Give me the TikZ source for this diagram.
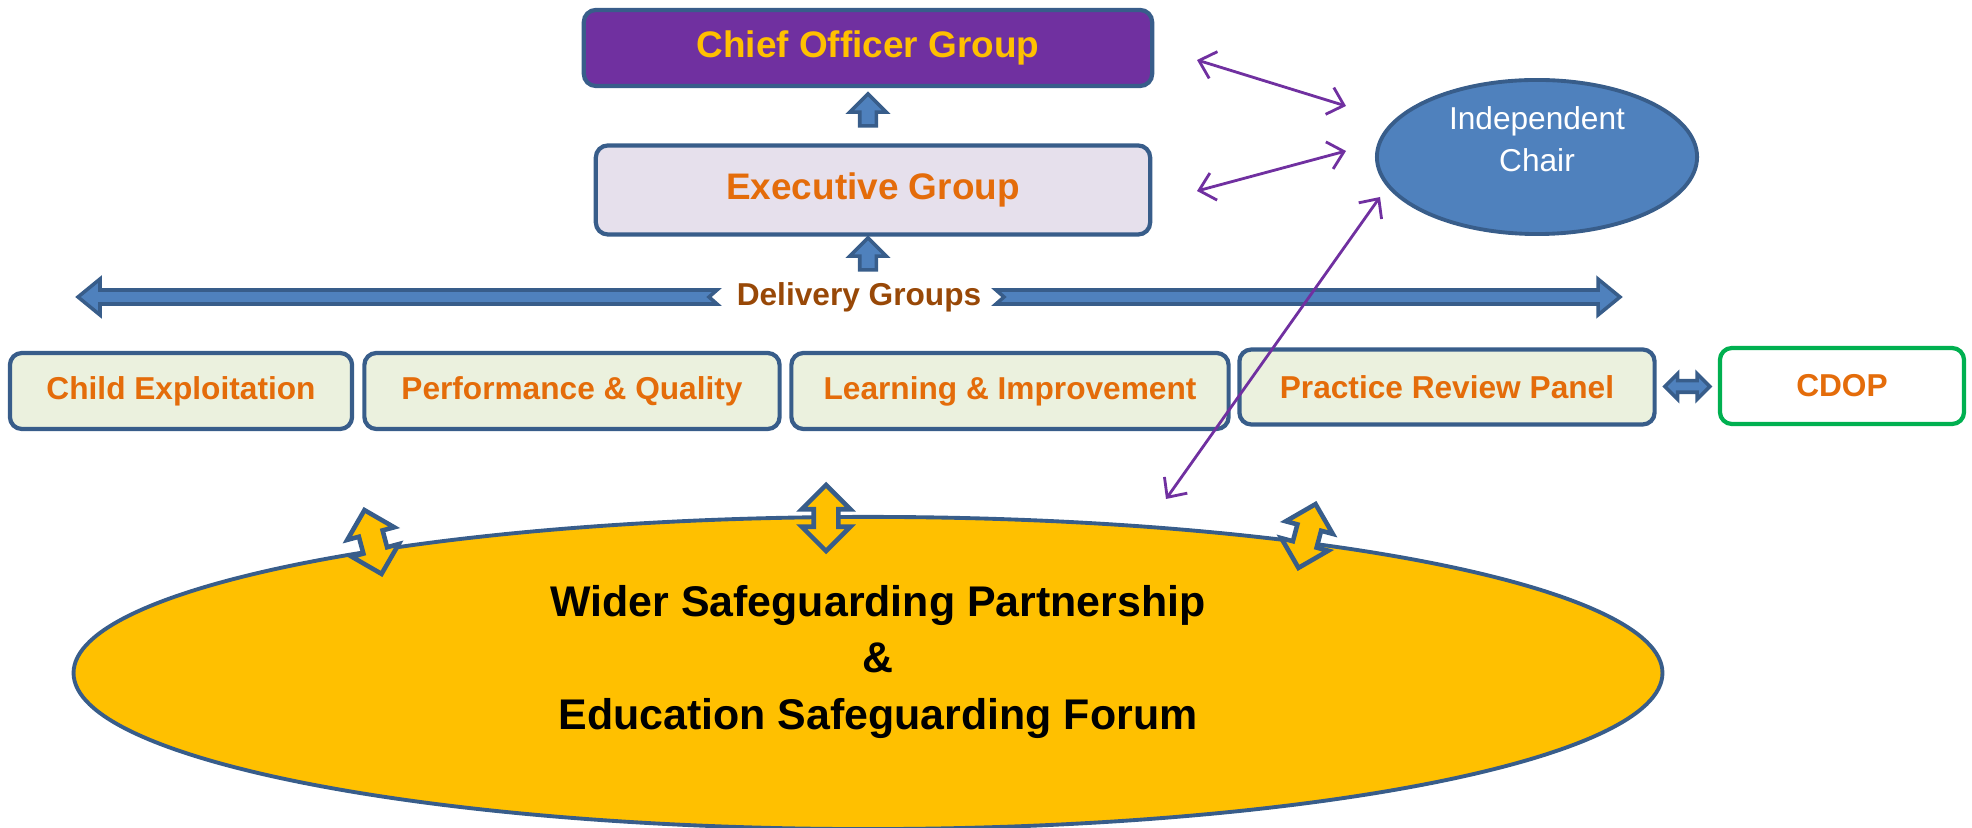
\documentclass[tikz,border=0pt]{standalone}
\usepackage{fontspec}
\setmainfont{Liberation Sans}
\usetikzlibrary{arrows.meta,calc,shapes.geometric,shapes.arrows}
\definecolor{cogpurple}{HTML}{7030A0}
\definecolor{cogyellow}{HTML}{FFC000}
\definecolor{edgeblue}{HTML}{385D8A}
\definecolor{fillblue}{HTML}{4F81BD}
\definecolor{groupfill}{HTML}{EBF1DE}
\definecolor{execfill}{HTML}{E6E0EC}
\definecolor{textorange}{HTML}{E46C0A}
\definecolor{textbrown}{HTML}{984807}
\definecolor{cdopgreen}{HTML}{00B050}

\begin{document}
\begin{tikzpicture}[x=0.01cm,y=-0.01cm,
    groupbox/.style={draw=edgeblue,line width=1.2pt,rounded corners=0.12cm,fill=groupfill,text=textorange,font=\fontsize{9}{11}\selectfont\bfseries,minimum height=0.76cm},
    blockup/.style={single arrow,draw=edgeblue,fill=fillblue,line width=1pt,inner xsep=0pt,inner ysep=0.065cm,minimum height=0.32cm,single arrow head extend=0.1cm,rotate=90},
    bothway/.style={double arrow,draw=edgeblue,fill=cogyellow,line width=1.3pt,inner xsep=0pt,inner ysep=0.1cm,minimum height=0.66cm,double arrow head extend=0.12cm},
    link/.style={cogpurple,line width=0.8pt,{Straight Barb[length=0.15cm,width=0.28cm]}-{Straight Barb[length=0.15cm,width=0.28cm]}}]
    \useasboundingbox (0,0) rectangle (1972,828);

    % wider partnership
    \node[ellipse,draw=edgeblue,fill=cogyellow,line width=1.1pt,inner sep=0pt,minimum width=15.88cm,minimum height=3.12cm] (forum) at (868,673) {};
    \node[font=\fontsize{12.2}{16}\selectfont\bfseries,align=center] (forumtext) at (878,662) {Wider Safeguarding Partnership\\\&\\Education Safeguarding Forum};
    \node[bothway,rotate=105] (wl) at (373,542) {};
    \node[bothway,rotate=90] (wm) at (826,518) {};
    \node[bothway,rotate=75] (wr) at (1307,536) {};

    % top groups
    \node[draw=edgeblue,line width=1.2pt,rounded corners=0.12cm,fill=cogpurple,text=cogyellow,font=\fontsize{10.5}{12}\selectfont\bfseries,minimum width=5.68cm,minimum height=0.76cm] (chief) at (868,48) {Chief Officer Group};
    \node[draw=edgeblue,line width=1.2pt,rounded corners=0.12cm,fill=execfill,text=textorange,font=\fontsize{10.5}{12}\selectfont\bfseries,minimum width=5.54cm,minimum height=0.89cm] (exec) at (873,190) {Executive Group};
    \node[blockup] (upchief) at (868,114) {};
    \node[blockup] (upexec) at (868,258) {};

    % delivery groups
    \node[text=textbrown,font=\fontsize{9}{11}\selectfont\bfseries] (delivery) at (859,297) {Delivery Groups};
    \draw[draw=edgeblue,fill=fillblue,line width=1pt](78,297)--(100,279)--(100,290)--(717,290)--(709,297)--(717,304)--(100,304)--(100,315)--cycle;
    \draw[draw=edgeblue,fill=fillblue,line width=1pt](1620,297)--(1598,279)--(1598,290)--(996,290)--(1004,297)--(996,304)--(1598,304)--(1598,315)--cycle;

    \node[groupbox,minimum width=3.42cm] (child) at (181,391) {Child Exploitation};
    \node[groupbox,minimum width=4.15cm] (perf) at (572,391) {Performance \& Quality};
    \node[groupbox,minimum width=4.37cm] (learn) at (1010,391) {Learning \& Improvement};
    \node[groupbox,minimum width=4.15cm,minimum height=0.75cm] (practice) at (1447,387) {Practice Review Panel};
    \node[draw=cdopgreen,line width=1.2pt,rounded corners=0.12cm,fill=white,text=textorange,font=\fontsize{9}{11}\selectfont\bfseries,minimum width=2.44cm,minimum height=0.76cm] (cdop) at (1842,386) {CDOP};
    \node[double arrow,draw=edgeblue,fill=fillblue,line width=1pt,inner xsep=0pt,inner ysep=0.04cm,minimum height=0.45cm,double arrow head extend=0.07cm] (prlink) at ($(practice.east)!0.5!(cdop.west)$) {};

    % independent chair
    \node[ellipse,draw=edgeblue,fill=fillblue,line width=1.1pt,inner sep=0pt,minimum width=3.2cm,minimum height=1.54cm,text=white,font=\fontsize{9}{12}\selectfont,align=center,text depth=0.36cm] (chair) at (1537,157) {Independent\\Chair};

    \coordinate (c1) at (1197,60);
    \coordinate (c2) at (1346,106);
    \coordinate (c3) at (1197,191);
    \coordinate (c4) at (1346,151);
    \coordinate (c5) at (1380,197);
    \coordinate (c6) at (1166,499);
    \draw[link](c1)--(c2);
    \draw[link](c3)--(c4);
    \draw[link](c5)--(c6);
\end{tikzpicture}
\end{document}
